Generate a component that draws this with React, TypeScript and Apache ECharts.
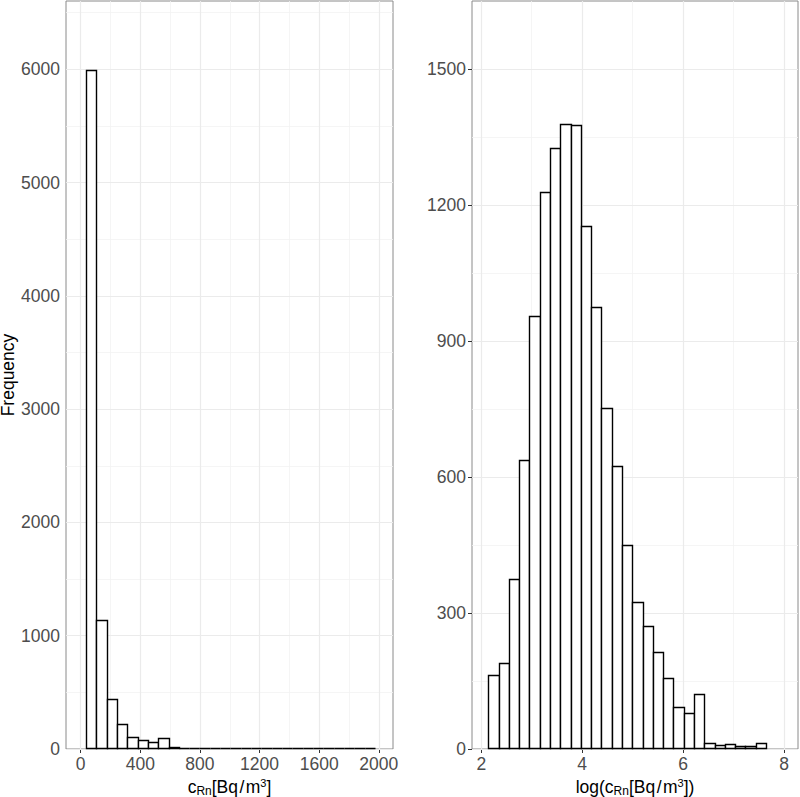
import React, { useEffect, useRef } from "react";
import * as echarts from "echarts";

// ---- data ----
const rawBinStart = 35.5;
const rawBinWidth = 69.2;
const rawCounts = [5990, 1140, 444, 218, 109, 77, 59, 100, 18, 1, 1, 0, 1, 5, 2, 0, 0, 1, 0, 1, 6, 1, 0, 0, 1, 3, 1, 3];

const logBinStart = 2.139;
const logBinWidth = 0.2039;
const logCounts = [164, 190, 375, 637, 955, 1229, 1326, 1379, 1376, 1154, 975, 753, 625, 451, 324, 272, 213, 156, 93, 79, 121, 13, 9, 11, 7, 6, 14];

const rawXTicks = [0, 400, 800, 1200, 1600, 2000];
const rawXMinor = [200, 600, 1000, 1400, 1800];
const rawYTicks = [0, 1000, 2000, 3000, 4000, 5000, 6000];
const rawYMinor = [500, 1500, 2500, 3500, 4500, 5500, 6500];

const logXTicks = [2, 4, 6, 8];
const logXMinor = [3, 5, 7];
const logYTicks = [0, 300, 600, 900, 1200, 1500];
const logYMinor = [150, 450, 750, 1050, 1350];

const rawRange = { xMin: -98.5, xMax: 2095, yMin: 0, yMax: 6603 };
const logRange = { xMin: 1.816, xMax: 8.277, yMin: 0, yMax: 1650 };

const FONT = "'Liberation Sans', Arial, Helvetica, sans-serif";

function bins(start: number, width: number, counts: number[]) {
  return counts.map((c, i) => [start + i * width, start + (i + 1) * width, c]);
}

function snap(v: number) {
  return Math.round(v) + 0.5;
}

function renderBar(params: any, api: any) {
  const x0 = api.value(0);
  const x1 = api.value(1);
  const c = api.value(2);
  const p0 = api.coord([x0, c]);
  const p1 = api.coord([x1, 0]);
  const left = snap(p0[0]);
  const right = snap(p1[0]);
  const top = snap(p0[1]);
  const bottom = snap(p1[1]) - 1;
  return {
    type: "rect",
    shape: { x: left, y: Math.min(top, bottom), width: right - left, height: Math.max(0, bottom - top) },
    style: { fill: "#ffffff", stroke: "#000000", lineWidth: 1.4 },
  };
}

function gridLines(xMajor: number[], xMinor: number[], yMajor: number[], yMinor: number[]) {
  const major = { color: "#EBEBEB", width: 1.2, type: "solid" };
  const minor = { color: "#F3F3F3", width: 0.8, type: "solid" };
  return [
    ...xMinor.map((v) => ({ xAxis: v, lineStyle: minor })),
    ...yMinor.map((v) => ({ yAxis: v, lineStyle: minor })),
    ...xMajor.map((v) => ({ xAxis: v, lineStyle: major })),
    ...yMajor.map((v) => ({ yAxis: v, lineStyle: major })),
  ];
}

const plain = (v: number) => String(Math.round(v * 1000) / 1000);

const labelStyle = { color: "#4D4D4D", fontSize: 17.5, fontFamily: FONT, formatter: plain };
const nameRich = {
  n: { fontSize: 17.5, fontFamily: FONT, color: "#000", lineHeight: 19, verticalAlign: "middle" },
  i: { fontSize: 17.5, fontFamily: FONT, color: "#000", lineHeight: 19, verticalAlign: "middle" },
  s: { fontSize: 12, fontFamily: FONT, color: "#000", lineHeight: 8, verticalAlign: "bottom" },
  p: { fontSize: 11, fontFamily: FONT, color: "#000", lineHeight: 11, verticalAlign: "top" },
};

function xAxisDef(gridIndex: number, range: any, ticks: number[], name: string) {
  return {
    type: "value",
    gridIndex,
    min: range.xMin,
    max: range.xMax,
    axisLine: { show: false },
    splitLine: { show: false },
    axisTick: { show: true, length: 4, customValues: ticks, lineStyle: { color: "#333333", width: 1 } },
    axisLabel: { ...labelStyle, margin: 6, customValues: ticks },
    name,
    nameLocation: "middle",
    nameGap: 28,
    nameTextStyle: { rich: nameRich },
  };
}

function yAxisDef(gridIndex: number, range: any, ticks: number[], name: string) {
  return {
    type: "value",
    gridIndex,
    min: range.yMin,
    max: range.yMax,
    axisLine: { show: false },
    splitLine: { show: false },
    axisTick: { show: true, length: 4, customValues: ticks, lineStyle: { color: "#333333", width: 1 } },
    axisLabel: { ...labelStyle, margin: 6, customValues: ticks },
    name,
    nameLocation: "middle",
    nameGap: 45.5,
    nameTextStyle: { color: "#000", fontSize: 17.5, lineHeight: 17, fontFamily: FONT },
  };
}

function gridLineSeries(index: number, lines: any[]) {
  return {
    type: "line",
    xAxisIndex: index,
    yAxisIndex: index,
    data: [],
    z: 1,
    markLine: {
      z: 1,
      silent: true,
      symbol: ["none", "none"],
      label: { show: false },
      animation: false,
      data: lines,
    },
  };
}

export default function App() {
  const ref = useRef<HTMLDivElement>(null);
  useEffect(() => {
    if (!ref.current) return;
    const chart = echarts.init(ref.current, undefined, { renderer: "svg" });
    const gridBase = {
      show: true,
      borderColor: "#8a8a8a",
      borderWidth: 1,
      backgroundColor: "#ffffff",
      containLabel: false,
      outerBoundsMode: "none",
    };
    chart.setOption({
      animation: false,
      backgroundColor: "#ffffff",
      grid: [
        { ...gridBase, left: 66, top: 1, width: 327, height: 748 },
        { ...gridBase, left: 472, top: 1, width: 326, height: 748 },
      ],
      xAxis: [
        xAxisDef(0, rawRange, rawXTicks, "{i|c}{s|Rn}{n|[Bq\u200a/\u200am}{p|3}{n|]}"),
        xAxisDef(1, logRange, logXTicks, "{n|log(}{i|c}{s|Rn}{n|[Bq\u200a/\u200am}{p|3}{n|])}"),
      ],
      yAxis: [yAxisDef(0, rawRange, rawYTicks, "Frequency"), yAxisDef(1, logRange, logYTicks, "")],
      series: [
        gridLineSeries(0, gridLines(rawXTicks, rawXMinor, rawYTicks, rawYMinor)),
        gridLineSeries(1, gridLines(logXTicks, logXMinor, logYTicks, logYMinor)),
        {
          type: "custom",
          xAxisIndex: 0,
          yAxisIndex: 0,
          z: 3,
          renderItem: renderBar,
          encode: { x: [0, 1], y: 2 },
          data: bins(rawBinStart, rawBinWidth, rawCounts),
        },
        {
          type: "custom",
          xAxisIndex: 1,
          yAxisIndex: 1,
          z: 3,
          renderItem: renderBar,
          encode: { x: [0, 1], y: 2 },
          data: bins(logBinStart, logBinWidth, logCounts),
        },
      ],
    });
    return () => chart.dispose();
  }, []);
  return <div ref={ref} style={{ position: "absolute", left: 0, top: 0, width: 800, height: 797 }} />;
}
